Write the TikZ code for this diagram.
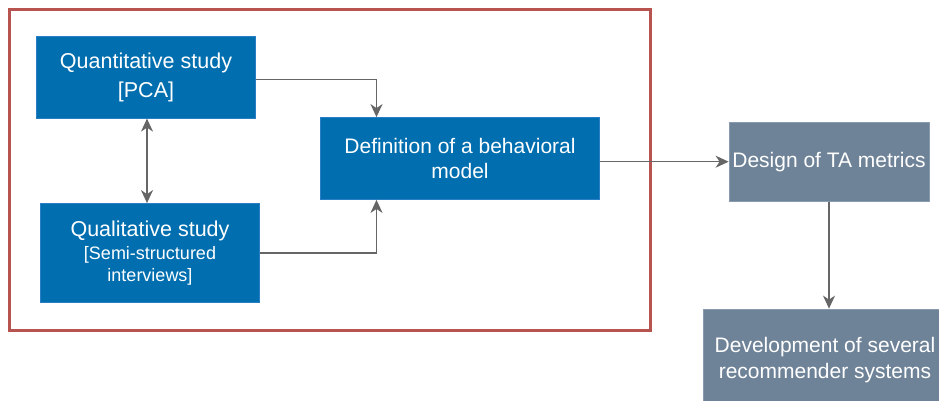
\documentclass[tikz,border=0pt]{standalone}
\usepackage{fontspec}
\setmainfont{Liberation Sans}
\usetikzlibrary{arrows.meta}
\definecolor{bluefill}{HTML}{006EAF}
\definecolor{blueline}{HTML}{2A7FC4}
\definecolor{grayfill}{HTML}{6F8398}
\definecolor{grayline}{HTML}{8A9BB0}
\definecolor{framered}{HTML}{B85450}
\definecolor{arrowgray}{HTML}{666666}
\newcommand{\smallbr}{\fontsize{18}{22}\selectfont}
\tikzset{
  bluebox/.style={draw=blueline, fill=bluefill, line width=0.8pt, text=white, align=center, inner sep=0pt,
    font=\fontsize{21.5}{28}\selectfont},
  graybox/.style={draw=grayline, fill=grayfill, line width=0.8pt, text=white, align=center, inner sep=0pt,
    font=\fontsize{21}{26}\selectfont},
  arr/.style={draw=arrowgray, line width=1.2pt, -{Stealth[length=13pt,width=12pt,inset=4pt]}},
  arrboth/.style={draw=arrowgray, line width=1.2pt, {Stealth[length=13pt,width=12pt,inset=4pt]}-{Stealth[length=13pt,width=12pt,inset=4pt]}}
}
\begin{document}
\begin{tikzpicture}[x=1pt,y=-1pt]
\useasboundingbox (0,0) rectangle (939,400);
\fill[white] (0,0) rectangle (939,400);
\draw[framered, line width=3pt] (9,9) rectangle (650,330);
\node[bluebox, minimum width=219pt, minimum height=82pt] (q) at (146,77.2) {Quantitative study\\[1pt]{}[PCA]};
\node[bluebox, minimum width=219pt, minimum height=99pt] (ql) at (150,253) {Qualitative study\\[-5pt]\smallbr [Semi-structured\\[-6pt]\smallbr interviews]};
\node[bluebox, minimum width=279pt, minimum height=82pt, font=\fontsize{21}{25}\selectfont] (d) at (460,158.5) {Definition of a behavioral\\model};
\node[graybox, minimum width=200pt, minimum height=79pt] (ds) at (829,161.7) {Design of TA metrics};
\node[graybox, minimum width=244pt, minimum height=102pt] (dv) at (825,360) {Development of several\\recommender systems};
\coordinate (jx) at (376.5,0);
\coordinate (vx) at (147,0);
\draw[arr] ([yshift=-2pt]q.east) -| (d.north -| jx);
\draw[arr] (ql.east) -| (d.south -| jx);
\draw[arrboth] (q.south -| vx) -- (ql.north -| vx);
\draw[arr] (d.east |- ds.west) -- (ds.west);
\draw[arr] (ds.south) -- (ds.south |- dv.north);
\end{tikzpicture}
\end{document}
